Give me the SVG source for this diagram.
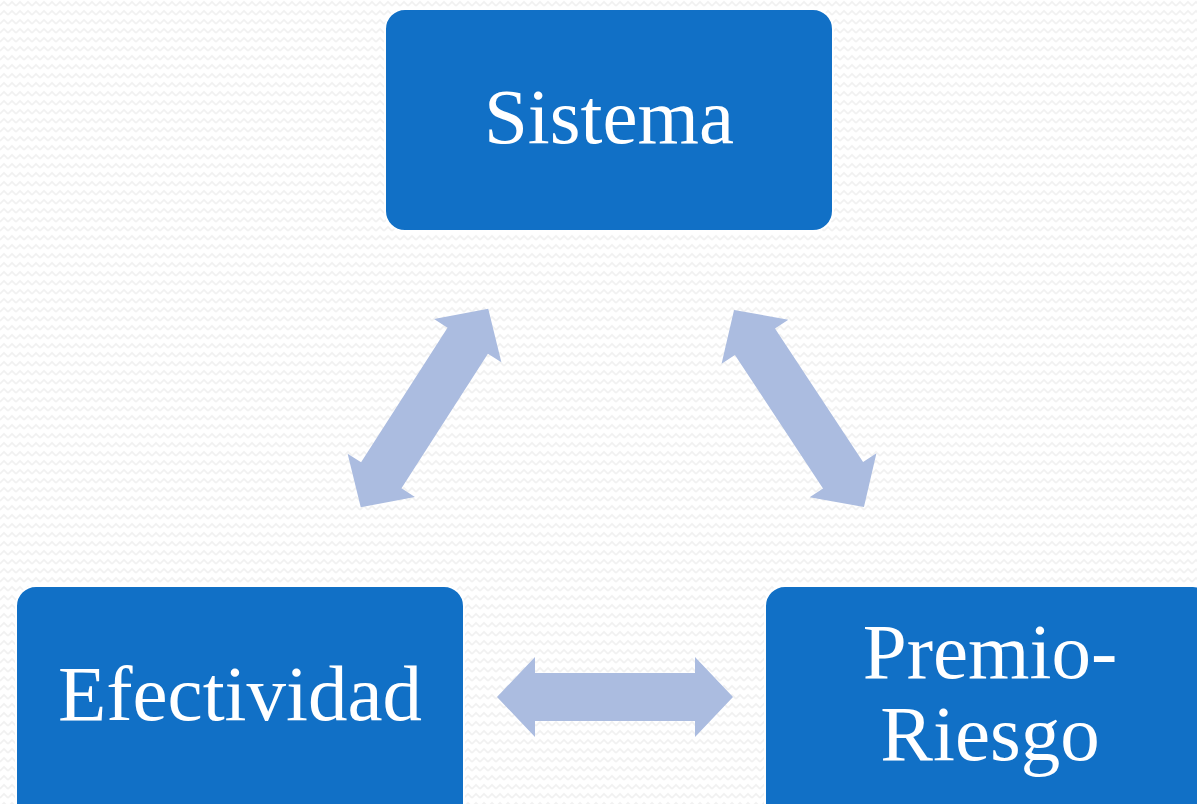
<svg xmlns="http://www.w3.org/2000/svg" width="1197" height="804" viewBox="0 0 1197 804">
<style>
.box{fill:#1170C6;stroke:#ffffff;stroke-width:2}
.lbl{fill:#ffffff;font-family:"Liberation Serif","DejaVu Serif",serif;font-size:79px;text-anchor:middle}
.arr{fill:#ABBCE0}
</style>
<defs>
<pattern id="zz" width="8" height="9" patternUnits="userSpaceOnUse">
<rect width="8" height="9" fill="#ffffff"/>
<path d="M0,6 L4,2 L8,6" fill="none" stroke="#f1f1f1" stroke-width="1.6"/>
</pattern>
<path id="dbl" d="M-118,0 L-80,-40 L-80,-24 L80,-24 L80,-40 L118,0 L80,40 L80,24 L-80,24 L-80,40 Z"/>
</defs>
<rect width="1197" height="804" fill="url(#zz)"/>
<g id="connectors">
<use href="#dbl" class="arr" transform="translate(424.5,408) rotate(-57.3)"/>
<use href="#dbl" class="arr" transform="translate(799,408.5) rotate(56.6)"/>
<use href="#dbl" class="arr" transform="translate(615,697)"/>
</g>
<g id="sistema">
<rect class="box" x="385" y="9" width="448" height="222" rx="20"/>
<text class="lbl" x="609" y="143">Sistema</text>
</g>
<g id="efectividad">
<rect class="box" x="16" y="586" width="448" height="240" rx="20"/>
<text class="lbl" x="240" y="720">Efectividad</text>
</g>
<g id="premio-riesgo">
<rect class="box" x="765" y="586" width="448" height="240" rx="20"/>
<text class="lbl" x="990" y="678">Premio-</text>
<text class="lbl" x="990" y="760">Riesgo</text>
</g>
</svg>
